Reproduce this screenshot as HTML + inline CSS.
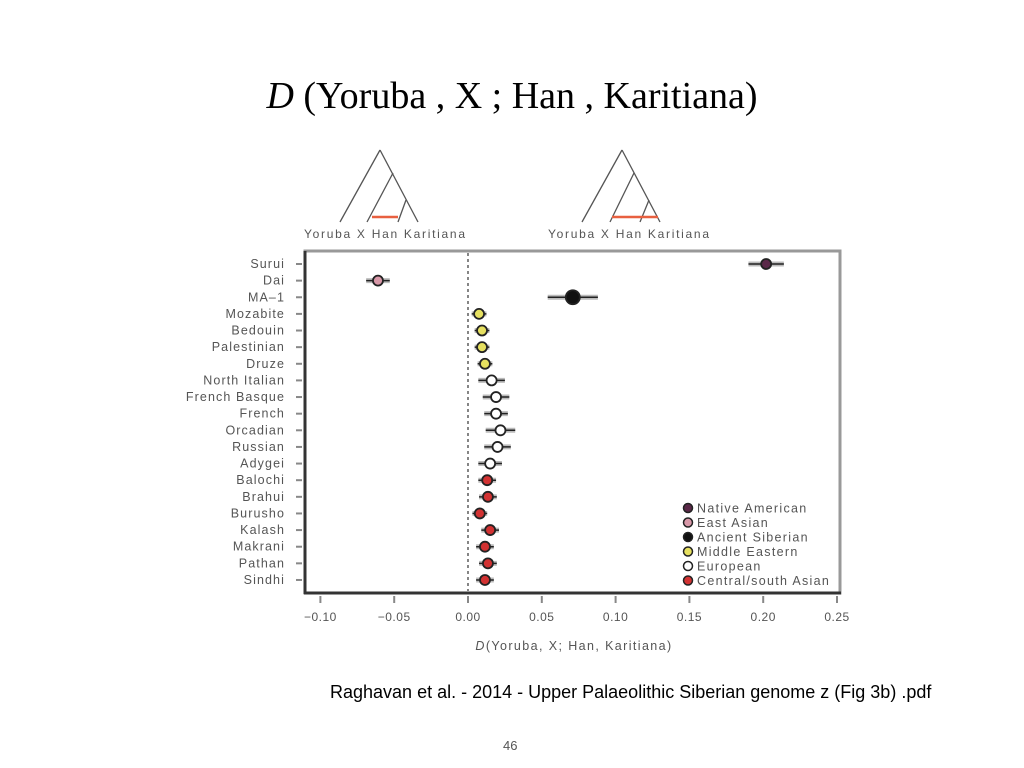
<!DOCTYPE html>
<html><head><meta charset="utf-8"><style>
body{margin:0;background:#fff;width:1024px;height:768px;overflow:hidden;position:relative;font-family:"Liberation Sans",sans-serif}
.t{position:absolute}
</style></head><body>
<div class="t" style="left:0;width:1024px;top:74px;text-align:center;font:38px 'Liberation Serif',serif;color:#000"><i>D</i> (Yoruba , X ; Han , Karitiana)</div>
<svg id="chart" width="1024" height="768" style="position:absolute;left:0;top:0"></svg>
<div class="t" style="left:330px;top:682px;font-size:18px;color:#000">Raghavan et al. - 2014 - Upper Palaeolithic Siberian genome z (Fig 3b) .pdf</div>
<div class="t" style="left:503px;top:738px;font-size:13px;color:#555">46</div>
<script>
const pops=["Surui","Dai","MA\u20131","Mozabite","Bedouin","Palestinian","Druze","North Italian","French Basque","French","Orcadian","Russian","Adygei","Balochi","Brahui","Burusho","Kalash","Makrani","Pathan","Sindhi"];
const dvals=[0.202,-0.061,0.071,0.0075,0.0095,0.0095,0.0115,0.016,0.019,0.019,0.022,0.020,0.015,0.013,0.0135,0.008,0.015,0.0115,0.0135,0.0115];
const errs=[0.012,0.008,0.017,0.005,0.005,0.005,0.005,0.009,0.009,0.008,0.010,0.009,0.008,0.006,0.006,0.005,0.006,0.006,0.006,0.006];
const groups=[0,1,2,3,3,3,3,4,4,4,4,4,4,5,5,5,5,5,5,5];
const groupNames=["Native American","East Asian","Ancient Siberian","Middle Eastern","European","Central/south Asian"];
const groupColors=["#5a2848","#d898a8","#111111","#e6e060","#ffffff","#d23232"];
const xticks=[-0.10,-0.05,0.00,0.05,0.10,0.15,0.20,0.25];
const xtickLabels=["\u22120.10","\u22120.05","0.00","0.05","0.10","0.15","0.20","0.25"];

const svg=document.getElementById('chart');
const NS='http://www.w3.org/2000/svg';
function mk(tag,a,parent){const e=document.createElementNS(NS,tag);for(const k in a)e.setAttribute(k,a[k]);(parent||svg).appendChild(e);return e;}
const X=v=>468+v*1476;
const Y=i=>264+i*16.63;

function tree(apex,n1,n2,leaves,red,name){
 const g=mk('g',{stroke:'#555','stroke-width':1.3,fill:'none'});
 
 
 mk('line',{x1:apex[0],y1:apex[1],x2:leaves[0],y2:222},g);
 mk('line',{x1:apex[0],y1:apex[1],x2:leaves[3],y2:222},g);
 mk('line',{x1:n1[0],y1:n1[1],x2:leaves[1],y2:222},g);
 mk('line',{x1:n2[0],y1:n2[1],x2:leaves[2],y2:222},g);
 mk('line',{x1:red[0],y1:217,x2:red[1],y2:217,stroke:'#e86040','stroke-width':2.5},g);
}
tree([380,150],[393,173],[406,200],[340,367,398,418],[372,398],'tree-left');
tree([622,150],[634,173],[649,200],[582,610,640,660],[612,658],'tree-right');
[[304,'tree-left-labels'],[548,'tree-right-labels']].forEach(([x,n])=>{
 const t=mk('text',{x:x,y:238,'font-size':12,fill:'#555',textLength:161,lengthAdjust:'spacing'});
 t.textContent='Yoruba  X  Han  Karitiana';
 
 
});

const frame=mk('rect',{x:305,y:251,width:535,height:342,fill:'#fff',stroke:'#999','stroke-width':3});


mk('line',{x1:305,y1:251,x2:305,y2:594,stroke:'#333','stroke-width':3});
mk('line',{x1:304,y1:593,x2:841,y2:593,stroke:'#333','stroke-width':3});
const zl=mk('line',{x1:X(0),y1:253,x2:X(0),y2:591,stroke:'#444','stroke-width':1.3,'stroke-dasharray':'3,3'});



xticks.forEach((v,i)=>{
 mk('line',{x1:X(v),y1:596,x2:X(v),y2:603,stroke:'#888','stroke-width':2});
 const t=mk('text',{x:X(v),y:621,'text-anchor':'middle','font-size':12,fill:'#555','letter-spacing':0.5});
 t.textContent=xtickLabels[i];
 
 
});
const xt=mk('text',{x:574,y:650,'text-anchor':'middle','font-size':12.5,fill:'#555','letter-spacing':1.4});
xt.innerHTML='<tspan font-style="italic">D</tspan>(Yoruba, X; Han, Karitiana)';



pops.forEach((p,i)=>{
 const y=Y(i);
 mk('line',{x1:296,y1:y,x2:302,y2:y,stroke:'#888','stroke-width':2});
 const t=mk('text',{x:285,y:y+4,'text-anchor':'end','font-size':12.5,fill:'#555','letter-spacing':1.1});
 t.textContent=p;
 
 
 const g=mk('g',{});
 
 
 const x=X(dvals[i]),e=errs[i]*1476;
 mk('line',{x1:x-e,y1:y,x2:x+e,y2:y,stroke:'#bbb','stroke-width':5},g);
 mk('line',{x1:x-e,y1:y,x2:x+e,y2:y,stroke:'#222','stroke-width':1.5},g);
 const r=groups[i]===2?7:5;
 mk('circle',{cx:x,cy:y,r:r,fill:groupColors[groups[i]],stroke:'#222','stroke-width':1.8},g);
});

groupNames.forEach((n,i)=>{
 const y=508+i*14.5;
 const g=mk('g',{});
 
 
 mk('circle',{cx:688,cy:y,r:4.5,fill:groupColors[i],stroke:'#222','stroke-width':1.5},g);
 const t=mk('text',{x:697,y:y+4.5,'font-size':12.5,fill:'#555','letter-spacing':1.3},g);
 t.textContent=n;
});
</script>
</body></html>
